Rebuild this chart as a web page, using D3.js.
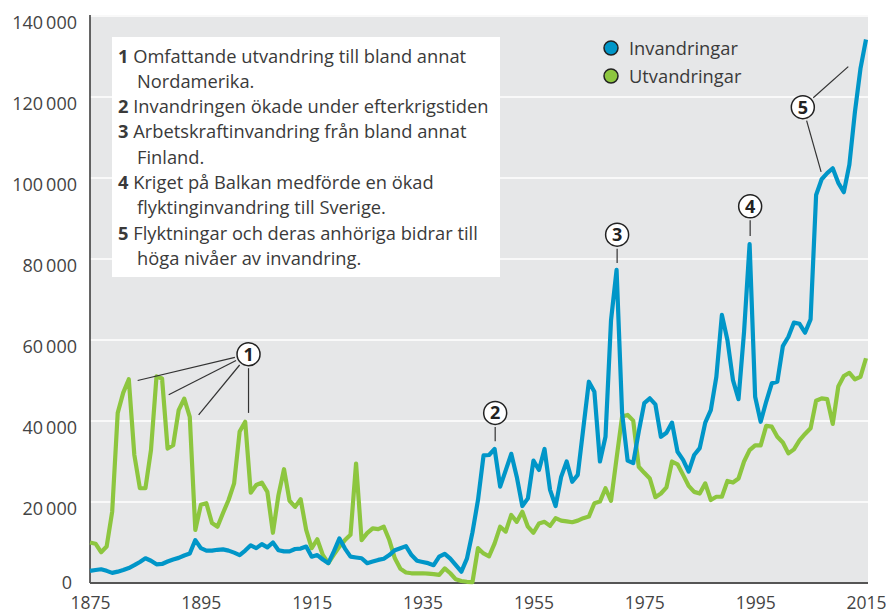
<!DOCTYPE html>
<html>
<head>
<meta charset="utf-8">
<script src="https://cdn.jsdelivr.net/npm/d3@7"></script>
<style>
  body { margin: 0; background: #fff; }
  svg { display: block; font-family: "Open Sans", sans-serif; }
</style>
</head>
<body>
<svg id="chart"></svg>
<script>
const startYear = 1875;

// Invandringar, one value per year 1875-2015
const invandringar = [
  3000, 3200, 3400, 3000, 2500, 2800, 3200, 3700, 4400, 5200,
  6100, 5500, 4600, 4700, 5300, 5800, 6200, 6800, 7300, 10600,
  8600, 8000, 8000, 8200, 8300, 8000, 7500, 6900, 8000, 9300,
  8600, 9600, 8800, 10000, 8100, 7800, 7800, 8400, 8500, 9000,
  6500, 6900, 5800, 4900, 7800, 11000, 8500, 6500, 6300, 6100,
  4900, 5300, 5700, 6000, 6900, 8100, 8600, 9100, 6900, 5500,
  5200, 4900, 4400, 6500, 7200, 6000, 4400, 2800, 6000, 12500,
  20500, 31500, 31600, 33100, 23800, 27800, 31900, 26200, 19000, 20900,
  30200, 27900, 33100, 23000, 19000, 26200, 30000, 25000, 26700, 38200,
  49700, 47200, 30000, 36100, 64900, 77300, 41900, 30200, 29600, 37400,
  44400, 45600, 44100, 36100, 37100, 39600, 32400, 30400, 27500, 31600,
  33300, 39600, 42700, 50900, 66200, 60000, 50100, 45400, 62000, 83700,
  46000, 39800, 44800, 49300, 49700, 58500, 60800, 64300, 64000, 61800,
  65100, 95800, 99700, 101200, 102400, 98800, 96500, 103300, 116300, 127000,
  134200
];

// Utvandringar, one value per year 1875-2015
const utvandringar = [
  10000, 9700, 7600, 9000, 17600, 42000, 47000, 50300, 31600, 23400,
  23400, 32800, 51000, 50500, 33200, 34000, 42700, 45500, 41000, 13100,
  19300, 19700, 14800, 13900, 17300, 20500, 24600, 37400, 39800, 22300,
  24200, 24800, 22500, 12400, 21700, 28100, 20300, 18800, 20700, 13100,
  8600, 10800, 6900, 4900, 7000, 9000, 10600, 11900, 29500, 10600,
  12300, 13500, 13300, 13900, 10600, 6100, 3500, 2600, 2400, 2400,
  2400, 2300, 2200, 2000, 3600, 2400, 900, 500, 300, 200,
  8600, 7300, 6600, 9800, 13900, 12700, 16800, 15100, 17600, 13900,
  12400, 14700, 15100, 14100, 16000, 15400, 15200, 15000, 15400, 16000,
  16400, 19700, 20100, 23400, 20300, 30800, 41100, 41500, 40100, 28700,
  27200, 25800, 21200, 22100, 23600, 30000, 29300, 26700, 24000, 22500,
  22100, 24600, 20500, 21300, 21300, 25200, 24800, 25800, 30000, 32800,
  34000, 34000, 38800, 38600, 36100, 34700, 32000, 33000, 35200, 36800,
  38200, 45000, 45600, 45400, 39300, 48500, 51100, 51900, 50300, 50900,
  55500
];

const xTicks = [1875, 1895, 1915, 1935, 1955, 1975, 1995, 2015];
const yTicks = [0, 20000, 40000, 60000, 80000, 100000, 120000, 140000];

const seriesNames = ['Invandringar', 'Utvandringar'];
const seriesColors = ['#0096c8', '#8dc63f'];

const notes = [
  ['1', 'Omfattande utvandring till bland annat', 'Nordamerika.'],
  ['2', 'Invandringen ökade under efterkrigstiden'],
  ['3', 'Arbetskraftinvandring från bland annat', 'Finland.'],
  ['4', 'Kriget på Balkan medförde en ökad', 'flyktinginvandring till Sverige.'],
  ['5', 'Flyktningar och deras anhöriga bidrar till', 'höga nivåer av invandring.']
];

// circled markers: label, year and value where the circle sits, and the points the leader lines go to
const markers = [
  { label: '1', year: 1903.6, value: 56500,
    lines: [[1883.6, 50000], [1889.2, 46500], [1894.6, 41500], [1903.6, 42000]] },
  { label: '2', year: 1948.1, value: 42000, lines: [[1948.1, 35000]] },
  { label: '3', year: 1970.1, value: 86000, lines: [[1970.1, 79000]] },
  { label: '4', year: 1994.1, value: 93000, lines: [[1994.1, 85700]] },
  { label: '5', year: 2003.6, value: 117500, lines: [[2011.8, 127500], [2006.9, 101500]] }
];

const width = 886;
const height = 613;
const margin = { top: 15, right: 18, bottom: 30, left: 90 };

const svg = d3.select('#chart')
  .attr('width', width)
  .attr('height', height);

const xScale = d3.scaleLinear()
  .domain([1875, 2015])
  .range([margin.left, width - margin.right - 2]);

const yScale = d3.scaleLinear()
  .domain([0, 140000])
  .range([height - margin.bottom, margin.top + 1]);

// plot background
svg.append('rect')
  .attr('x', margin.left)
  .attr('y', margin.top)
  .attr('width', width - margin.right - margin.left)
  .attr('height', height - margin.bottom - margin.top)
  .attr('fill', '#e6e7e8');

// gridlines
svg.append('g')
  .selectAll('line')
  .data(yTicks.slice(1))
  .enter()
  .append('line')
  .attr('x1', margin.left)
  .attr('x2', width - margin.right)
  .attr('y1', d => yScale(d))
  .attr('y2', d => yScale(d))
  .attr('stroke', '#fff')
  .attr('stroke-width', 1.5);

// axes
const yAxis = d3.axisLeft(yScale)
  .tickValues(yTicks)
  .tickSize(0)
  .tickPadding(13)
  .tickFormat(d => d3.format(',')(d).replace(/,/g, '\u2009'));

svg.append('g')
  .attr('id', 'y-axis')
  .attr('transform', `translate(${margin.left}, 0)`)
  .call(yAxis)
  .call(g => g.select('.domain').remove())
  .call(g => g.selectAll('text')
    .attr('dy', d => d === 0 ? '0.3em' : '0.68em')
    .attr('dx', d => d === 0 ? '-5px' : 0)
    .attr('fill', '#444')
    .style('font-size', '18px')
    .style('font-family', '"Open Sans", sans-serif'));

const xAxis = d3.axisBottom(xScale)
  .tickValues(xTicks)
  .tickSize(0)
  .tickPadding(14)
  .tickFormat(d3.format('d'));

svg.append('g')
  .attr('id', 'x-axis')
  .attr('transform', `translate(0, ${height - margin.bottom})`)
  .call(xAxis)
  .call(g => g.select('.domain').remove())
  .call(g => g.selectAll('text')
    .attr('fill', '#444')
    .style('font-size', '17.5px')
    .style('font-family', '"Open Sans", sans-serif'));

svg.append('line')
  .attr('x1', margin.left)
  .attr('x2', margin.left)
  .attr('y1', margin.top)
  .attr('y2', height - margin.bottom)
  .attr('stroke', '#333')
  .attr('stroke-width', 1.5);

svg.append('line')
  .attr('x1', margin.left)
  .attr('x2', width - margin.right)
  .attr('y1', height - margin.bottom)
  .attr('y2', height - margin.bottom)
  .attr('stroke', '#555')
  .attr('stroke-width', 2);

// lines
const line = d3.line()
  .x((d, i) => xScale(startYear + i))
  .y(d => yScale(d));

[utvandringar, invandringar].forEach((values, k) => {
  svg.append('path')
    .datum(values)
    .attr('d', line)
    .attr('fill', 'none')
    .attr('stroke', k === 0 ? seriesColors[1] : seriesColors[0])
    .attr('stroke-width', 4.2)
    .attr('stroke-linejoin', 'round');
});

// note box
const box = svg.append('g');
box.append('rect')
  .attr('x', 112)
  .attr('y', 37)
  .attr('width', 388)
  .attr('height', 240)
  .attr('fill', '#fff');

let row = 0;
notes.forEach(n => {
  n.slice(1).forEach((txt, j) => {
    const t = box.append('text')
      .attr('x', j === 0 ? 118 : 137)
      .attr('y', 62.5 + row * 25.3)
      .attr('fill', '#3a3a3a')
      .style('font-size', '18.3px');
    if (j === 0) {
      t.append('tspan').attr('font-weight', 'bold').text(n[0] + ' ');
    }
    t.append('tspan').text(txt);
    row++;
  });
});

// legend
const legend = svg.append('g');
seriesNames.forEach((name, i) => {
  legend.append('circle')
    .attr('cx', 611)
    .attr('cy', 48 + i * 28)
    .attr('r', 7)
    .attr('fill', seriesColors[i])
    .attr('stroke', '#222')
    .attr('stroke-width', 1.5);
  legend.append('text')
    .attr('x', 629)
    .attr('y', 54.5 + i * 28)
    .attr('fill', '#3a3a3a')
    .style('font-size', '18.3px')
    .text(name);
});

// markers
const mk = svg.append('g');
markers.forEach(m => {
  const cx = xScale(m.year);
  const cy = yScale(m.value);
  m.lines.forEach(p => {
    const px = xScale(p[0]);
    const py = yScale(p[1]);
    const dx = px - cx, dy = py - cy;
    const len = Math.sqrt(dx * dx + dy * dy);
    mk.append('line')
      .attr('x1', cx + dx / len * 14)
      .attr('y1', cy + dy / len * 14)
      .attr('x2', px)
      .attr('y2', py)
      .attr('stroke', '#333')
      .attr('stroke-width', 1.2);
  });
  mk.append('circle')
    .attr('cx', cx)
    .attr('cy', cy)
    .attr('r', 11.5)
    .attr('fill', '#fff')
    .attr('stroke', '#222')
    .attr('stroke-width', 1.5);
  mk.append('text')
    .attr('x', cx)
    .attr('y', cy + 6.5)
    .attr('text-anchor', 'middle')
    .attr('font-weight', 'bold')
    .attr('fill', '#222')
    .style('font-size', '18px')
    .text(m.label);
});
</script>
</body>
</html>
